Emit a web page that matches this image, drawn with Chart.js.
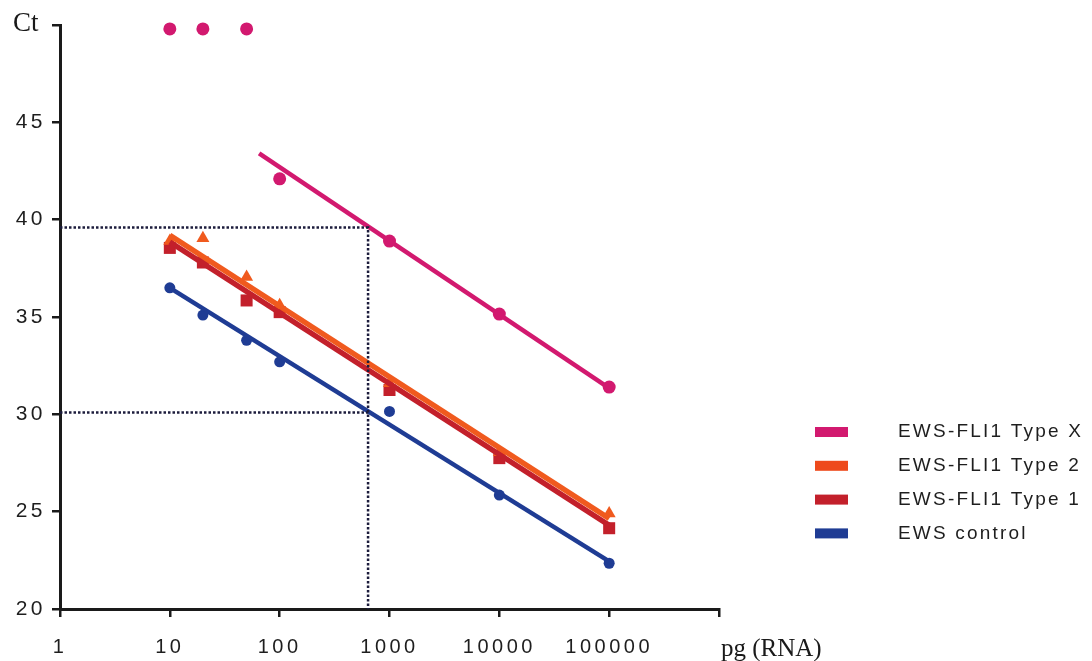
<!DOCTYPE html>
<html>
<head>
<meta charset="utf-8">
<script src="https://cdn.jsdelivr.net/npm/chart.js@4.4.1/dist/chart.umd.min.js"></script>
<style>
  html, body { margin: 0; padding: 0; background: #fff; }
  #wrap { width: 1092px; height: 661px; position: relative; }
</style>
</head>
<body>
<div id="wrap"><canvas id="ctChart"></canvas></div>
<script>
// RNA amounts (pg) and measured Ct values
const amounts = [10, 20, 50, 100, 1000, 10000, 100000];
const ctTypeX = [49.8, 49.8, 49.8, 42.1, 38.9, 35.15, 31.4];
const ctType2 = [38.9, 39.05, 37.05, 35.6, 31.6, 28.05, 24.9];
const ctType1 = [38.55, 37.8, 35.85, 35.25, 31.25, 27.75, 24.15];
const ctControl = [36.5, 35.1, 33.8, 32.7, 30.15, 25.85, 22.35];

// regression lines: [start pg, start Ct, end pg, end Ct]
const fitTypeX = [65, 43.4, 100000, 31.35];
const fitType2 = [10, 39.2, 100000, 24.65];
const fitType1 = [10, 38.85, 100000, 24.3];
const fitControl = [10, 36.5, 100000, 22.45];

// dotted read-off lines
const refAmount = 638;
const refCtHigh = 39.6;
const refCtLow = 30.1;

const xTicks = [1, 10, 100, 1000, 10000, 100000, 1000000];
const seriesNames = ['EWS-FLI1 Type X', 'EWS-FLI1 Type 2', 'EWS-FLI1 Type 1', 'EWS control'];
const seriesColors = ['#d2196f', '#ee4a1c', '#c3202b', '#1f3c94'];

const pts = (ys) => amounts.map((x, i) => ({ x, y: ys[i] }));
const fit = (f) => [{ x: f[0], y: f[1] }, { x: f[2], y: f[3] }];

function lineSet(f, color, width) {
  return { data: fit(f), borderColor: color, borderWidth: width, pointRadius: 0, showLine: true, fill: false };
}
function pointSet(ys, color, style, r) {
  return { data: pts(ys), backgroundColor: color, borderColor: color, borderWidth: 0,
           pointStyle: style, pointRadius: r, showLine: false, clip: false };
}

// legend and axis titles drawn on the canvas
const extras = {
  id: 'extras',
  beforeDraw(chart) {
    chart.ctx.letterSpacing = '3.5px';
  },
  afterDraw(chart) {
    const ctx = chart.ctx;
    ctx.save();
    ctx.letterSpacing = '0px';
    ctx.fillStyle = '#1a1a1a';
    ctx.textBaseline = 'middle';
    ctx.textAlign = 'left';
    ctx.font = '25px "Liberation Serif"';
    ctx.fillText('pg (RNA)', 721, 649);
    ctx.font = '27px "Liberation Serif"';
    ctx.fillText('Ct', 13, 24);

    ctx.letterSpacing = '2.2px';
    ctx.font = '19px "Liberation Sans"';
    seriesNames.forEach((name, i) => {
      const y = 432 + i * 33.8;
      ctx.fillStyle = seriesColors[i];
      ctx.fillRect(815, y - 5, 33, 10);
      ctx.fillStyle = '#1e1e1e';
      ctx.fillText(name, 898, y);
    });
    ctx.restore();
  }
};

const dotted = { borderColor: '#1c1c3c', borderWidth: 2.5, borderDash: [2.5, 2], pointRadius: 0, showLine: true, fill: false };

new Chart(document.getElementById('ctChart'), {
  type: 'scatter',
  data: {
    datasets: [
      Object.assign({ data: [{ x: 1, y: refCtHigh }, { x: refAmount, y: refCtHigh }, { x: refAmount, y: 20 }] }, dotted),
      Object.assign({ data: [{ x: 1, y: refCtLow }, { x: refAmount, y: refCtLow }] }, dotted),
      lineSet(fitTypeX, seriesColors[0], 4.5),
      lineSet(fitType2, '#f05a1e', 5.5),
      lineSet(fitType1, seriesColors[2], 5.5),
      lineSet(fitControl, seriesColors[3], 4.5),
      pointSet(ctTypeX, seriesColors[0], 'circle', 6.5),
      pointSet(ctType2, '#f05a1e', 'triangle', 7.5),
      pointSet(ctType1, seriesColors[2], 'rect', 8.5),
      pointSet(ctControl, seriesColors[3], 'circle', 5.5)
    ]
  },
  options: {
    responsive: true,
    maintainAspectRatio: false,
    animation: false,
    layout: { padding: { top: 25, right: 373, left: 0, bottom: 0 } },
    plugins: { legend: { display: false }, tooltip: { enabled: false } },
    scales: {
      x: {
        type: 'logarithmic',
        min: 1,
        max: 1000000,
        afterBuildTicks: (scale) => { scale.ticks = xTicks.map(v => ({ value: v })); },
        afterFit: (scale) => { scale.height = 52; },
        ticks: {
          autoSkip: false,
          maxRotation: 0,
          padding: 18,
          color: '#1e1e1e',
          font: { family: 'Liberation Sans', size: 20 },
          callback: (v) => v === 1000000 ? '' : String(v)
        },
        grid: { drawOnChartArea: false, drawTicks: true, tickLength: 8, color: '#1a1a1a', lineWidth: 2.5 },
        border: { color: '#1a1a1a', width: 3 }
      },
      y: {
        min: 20,
        max: 50,
        afterFit: (scale) => { scale.width = 60; },
        ticks: {
          stepSize: 5,
          padding: 6,
          color: '#1e1e1e',
          font: { family: 'Liberation Sans', size: 21 },
          callback: (v) => v === 50 ? '' : String(v)
        },
        grid: { drawOnChartArea: false, drawTicks: true, tickLength: 8, color: '#1a1a1a', lineWidth: 2.5 },
        border: { color: '#1a1a1a', width: 3 }
      }
    }
  },
  plugins: [extras]
});
</script>
</body>
</html>
